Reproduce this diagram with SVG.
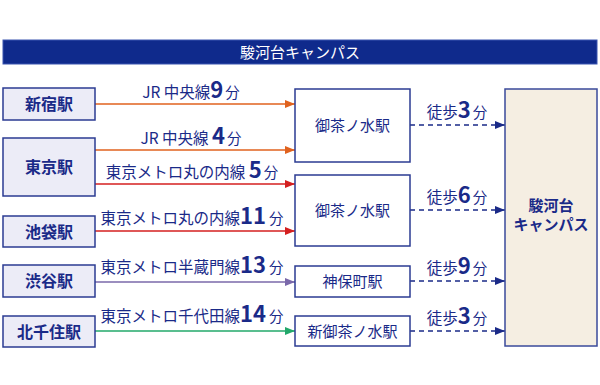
<svg xmlns="http://www.w3.org/2000/svg" width="600" height="385" viewBox="0 0 600 385">
<style>
text{font-family:"Noto Sans CJK JP","Noto Sans",sans-serif;fill:#1a2a88}
.src rect{fill:#ececf7;stroke:#2b3b92;stroke-width:1.5}
.src text{font-size:16px;font-weight:bold;text-anchor:middle}
.st rect{fill:#fff;stroke:#2b3b92;stroke-width:1.5}
.st text{font-size:15px;text-anchor:middle}
.lbl{font-size:15.5px;text-anchor:middle}
.num{font-size:22px;font-weight:bold}
.fun{font-size:14.5px}
.walk{stroke:#1a2a88;stroke-width:1.5;stroke-dasharray:5 4;fill:none}
</style>
<defs>
<marker id="aO" viewBox="0 0 10 8" refX="10" refY="4" markerWidth="10" markerHeight="8" markerUnits="userSpaceOnUse" orient="auto"><path d="M0,0L10,4L0,8z" fill="#e0621e"/></marker>
<marker id="aR" viewBox="0 0 10 8" refX="10" refY="4" markerWidth="10" markerHeight="8" markerUnits="userSpaceOnUse" orient="auto"><path d="M0,0L10,4L0,8z" fill="#d41f1f"/></marker>
<marker id="aP" viewBox="0 0 10 8" refX="10" refY="4" markerWidth="10" markerHeight="8" markerUnits="userSpaceOnUse" orient="auto"><path d="M0,0L10,4L0,8z" fill="#7a68aa"/></marker>
<marker id="aG" viewBox="0 0 10 8" refX="10" refY="4" markerWidth="10" markerHeight="8" markerUnits="userSpaceOnUse" orient="auto"><path d="M0,0L10,4L0,8z" fill="#22a86a"/></marker>
<marker id="aN" viewBox="0 0 10 8" refX="10" refY="4" markerWidth="10" markerHeight="8" markerUnits="userSpaceOnUse" orient="auto"><path d="M0,0L10,4L0,8z" fill="#1a2a88"/></marker>
</defs>
<rect width="600" height="385" fill="#fff"/>
<g id="title">
<rect x="3" y="40" width="594" height="24" fill="#0f2a8c" stroke="#3a55b0" stroke-width="1"/>
<text x="300" y="57.5" style="font-size:15px;fill:#fff;text-anchor:middle">駿河台キャンパス</text>
</g>
<g id="connectors">
<line x1="95" y1="104" x2="295" y2="104" stroke="#e0621e" stroke-width="1.5" marker-end="url(#aO)"/>
<line x1="95" y1="150" x2="295" y2="150" stroke="#e0621e" stroke-width="1.5" marker-end="url(#aO)"/>
<line x1="95" y1="184" x2="295" y2="184" stroke="#d41f1f" stroke-width="1.5" marker-end="url(#aR)"/>
<line x1="95" y1="231" x2="295" y2="231" stroke="#d41f1f" stroke-width="1.5" marker-end="url(#aR)"/>
<line x1="95" y1="282" x2="295" y2="282" stroke="#7a68aa" stroke-width="1.5" marker-end="url(#aP)"/>
<line x1="95" y1="331" x2="295" y2="331" stroke="#22a86a" stroke-width="1.5" marker-end="url(#aG)"/>
<line x1="410" y1="125" x2="505" y2="125" class="walk" marker-end="url(#aN)"/>
<line x1="410" y1="210" x2="505" y2="210" class="walk" marker-end="url(#aN)"/>
<line x1="410" y1="281" x2="505" y2="281" class="walk" marker-end="url(#aN)"/>
<line x1="410" y1="331" x2="505" y2="331" class="walk" marker-end="url(#aN)"/>
<text class="lbl" x="191" y="98">JR 中央線<tspan class="num">9</tspan><tspan class="fun" dx="2">分</tspan></text>
<text class="lbl" x="191" y="144">JR 中央線 <tspan class="num">4</tspan><tspan class="fun" dx="2">分</tspan></text>
<text class="lbl" x="192" y="178">東京メトロ丸の内線 <tspan class="num">5</tspan><tspan class="fun" dx="2">分</tspan></text>
<text class="lbl" x="192" y="224">東京メトロ丸の内線<tspan class="num">11</tspan><tspan class="fun" dx="3">分</tspan></text>
<text class="lbl" x="192" y="273">東京メトロ半蔵門線<tspan class="num">13</tspan><tspan class="fun" dx="3">分</tspan></text>
<text class="lbl" x="192" y="322">東京メトロ千代田線<tspan class="num">14</tspan><tspan class="fun" dx="3">分</tspan></text>
<text class="lbl" x="457" y="118">徒歩<tspan class="num">3</tspan><tspan class="fun" dx="2">分</tspan></text>
<text class="lbl" x="457" y="203">徒歩<tspan class="num">6</tspan><tspan class="fun" dx="2">分</tspan></text>
<text class="lbl" x="457" y="274">徒歩<tspan class="num">9</tspan><tspan class="fun" dx="2">分</tspan></text>
<text class="lbl" x="457" y="324">徒歩<tspan class="num">3</tspan><tspan class="fun" dx="2">分</tspan></text>
</g>
<g id="shinjuku" class="src"><rect x="3" y="88" width="92" height="32"/><text x="49" y="110">新宿駅</text></g>
<g id="tokyo" class="src"><rect x="3" y="138" width="92" height="58"/><text x="49" y="173">東京駅</text></g>
<g id="ikebukuro" class="src"><rect x="3" y="216" width="92" height="31"/><text x="49" y="237.5">池袋駅</text></g>
<g id="shibuya" class="src"><rect x="3" y="265" width="92" height="32"/><text x="49" y="287">渋谷駅</text></g>
<g id="kitasenju" class="src"><rect x="3" y="316" width="92" height="31"/><text x="49" y="337.5">北千住駅</text></g>
<g id="ochanomizu1" class="st"><rect x="295" y="89" width="115" height="73"/><text x="352.5" y="131">御茶ノ水駅</text></g>
<g id="ochanomizu2" class="st"><rect x="295" y="175" width="115" height="71"/><text x="352.5" y="216">御茶ノ水駅</text></g>
<g id="jimbocho" class="st"><rect x="295" y="266" width="115" height="31"/><text x="352.5" y="287">神保町駅</text></g>
<g id="shinochanomizu" class="st"><rect x="295" y="316" width="115" height="30"/><text x="352.5" y="337">新御茶ノ水駅</text></g>
<g id="campus"><rect x="505" y="89" width="92" height="257" fill="#f5eee2" stroke="#3a4a9a" stroke-width="1.5"/>
<text x="551" y="211" style="font-size:15px;font-weight:bold;text-anchor:middle">駿河台</text>
<text x="551" y="230" style="font-size:15px;font-weight:bold;text-anchor:middle">キャンパス</text></g>
</svg>
